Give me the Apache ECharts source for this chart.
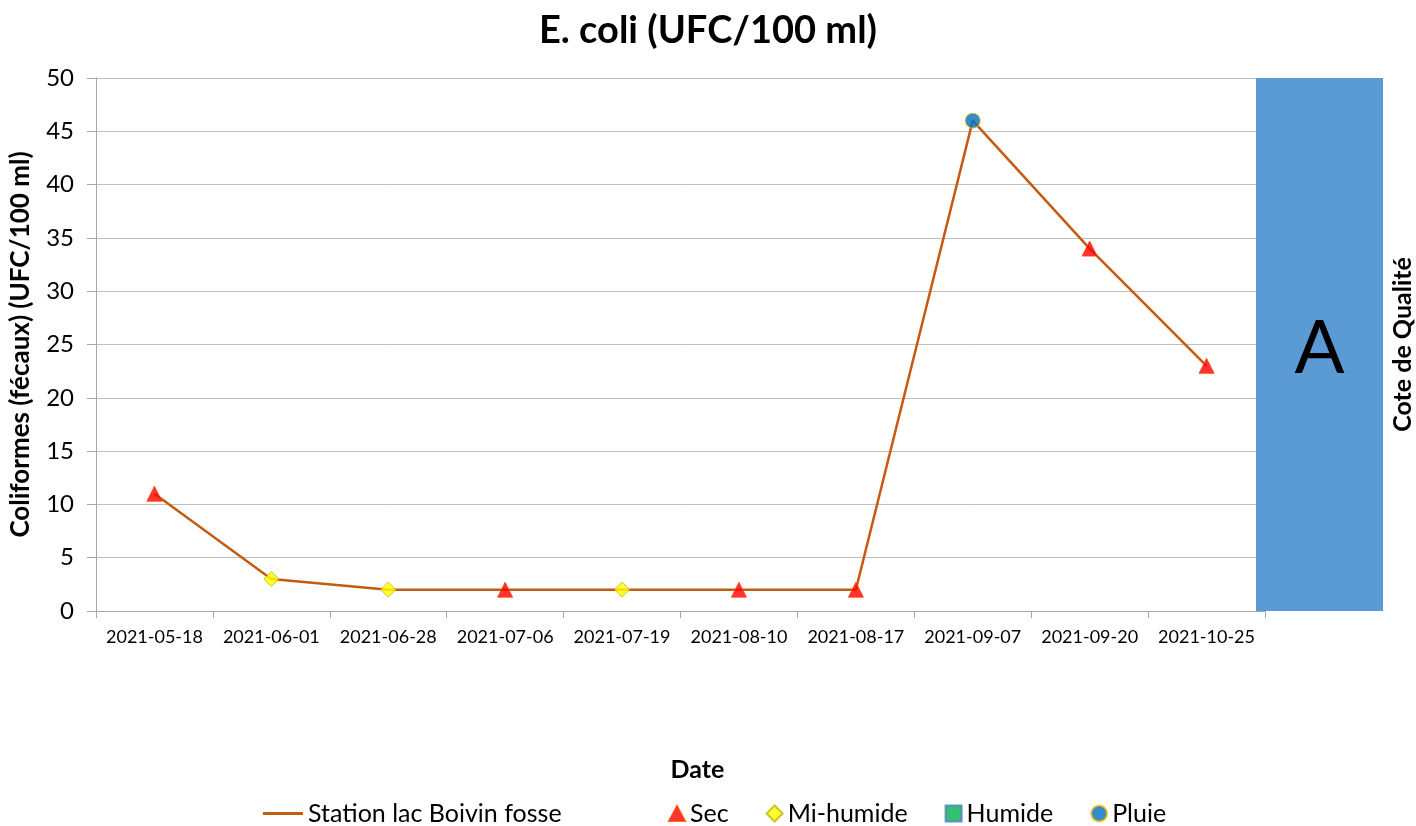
<!DOCTYPE html>
<html>
<head>
<meta charset="utf-8">
<script src="https://cdn.jsdelivr.net/npm/echarts@6/dist/echarts.min.js"></script>
<style>
  html, body { margin: 0; padding: 0; background: #fff; }
  #chart { width: 1416px; height: 826px; }
</style>
</head>
<body>
<div id="chart"></div>
<script>
// data
const dates = ["2021-05-18", "2021-06-01", "2021-06-28", "2021-07-06", "2021-07-19",
  "2021-08-10", "2021-08-17", "2021-09-07", "2021-09-20", "2021-10-25"];
const values = [11, 3, 2, 2, 2, 2, 2, 46, 34, 23];
const conditions = ["Sec", "Mi-humide", "Mi-humide", "Sec", "Mi-humide",
  "Sec", "Sec", "Pluie", "Sec", "Sec"];
const yTicks = [0, 5, 10, 15, 20, 25, 30, 35, 40, 45, 50];
const qualityGrade = "A";
const qualityTop = [50];

const FONT = "Lato";
const chart = echarts.init(document.getElementById("chart"));

// one scatter series per weather condition
const markerStyles = {
  "Sec": { symbol: "triangle", color: "#ff0000", border: "#ff4000", size: 15,
    icon: "path://M8,0L16,15L0,15Z" },
  "Mi-humide": { symbol: "diamond", color: "#ffff00", border: "#c8b400", size: 15,
    icon: "path://M8,0L16,8L8,16L0,8Z" },
  "Humide": { symbol: "rect", color: "#00b050", border: "#4f81bd", size: 13,
    icon: "path://M0,0H16V16H0Z" },
  "Pluie": { symbol: "circle", color: "#0070c0", border: "#ffc000", size: 15,
    icon: "path://M8,0A8,8,0,1,1,8,16A8,8,0,1,1,8,0Z" },
};
const condNames = Object.keys(markerStyles);
const condSeries = condNames.map(name => {
  const m = markerStyles[name];
  return {
    name: name,
    type: "scatter",
    xAxisIndex: 0, yAxisIndex: 0,
    symbol: m.symbol,
    symbolSize: m.size,
    itemStyle: { color: m.color, borderColor: m.border, borderWidth: 1 },
    data: values.map((v, i) => (conditions[i] === name ? v : "-")),
    z: 5,
  };
});

const axisGray = "#a6a6a6";
const legendText = { fontFamily: FONT, fontSize: 25, color: "#000" };
const option = {
  animation: false,
  textStyle: { fontFamily: FONT },
  title: {
    text: "E. coli (UFC/100 ml)",
    left: "center",
    top: 7,
    textStyle: { fontFamily: FONT, fontSize: 38, fontWeight: "bold", color: "#000" },
  },
  legend: [
    {
      left: 258, top: 796,
      itemWidth: 40, itemHeight: 16, itemGap: 40, itemTextGap: 6,
      textStyle: legendText,
      data: [{ name: "Station lac Boivin fosse", icon: "path://M0,0H40V3H0Z" }],
    },
    {
      left: 663, top: 796,
      itemWidth: 16, itemHeight: 16, itemGap: 37, itemTextGap: 9,
      textStyle: legendText,
      data: condNames.map(n => ({ name: n, icon: markerStyles[n].icon })),
    },
  ],
  grid: [
    { left: 95, right: 151, top: 78, bottom: 215 },
    { left: 1256, right: 28, top: 78, bottom: 215 },
  ],
  xAxis: [
    {
      type: "category",
      gridIndex: 0,
      data: dates,
      boundaryGap: true,
      axisLine: { lineStyle: { color: axisGray } },
      axisTick: { show: true, length: 7, lineStyle: { color: axisGray } },
      axisLabel: { color: "#000", fontSize: 18, margin: 17, interval: 0, fontFamily: FONT },
      name: "Date",
      nameLocation: "middle",
      nameGap: 146,
      nameTextStyle: { fontFamily: FONT, fontSize: 25, fontWeight: "bold", color: "#000", padding: [0, 0, 0, 34] },
    },
    { type: "category", gridIndex: 1, data: [qualityGrade], show: false },
  ],
  yAxis: [
    {
      type: "value",
      gridIndex: 0,
      min: 0, max: 50, interval: 5,
      axisLine: { show: true, lineStyle: { color: axisGray } },
      axisTick: { show: true, length: 9, lineStyle: { color: axisGray } },
      splitLine: { lineStyle: { color: "#bfbfbf", width: 1 } },
      axisLabel: { color: "#000", fontSize: 24, margin: 22, fontFamily: FONT,
        formatter: v => (yTicks.includes(v) ? String(v) : "") },
      name: "Coliformes (fécaux) (UFC/100 ml)",
      nameLocation: "middle",
      nameGap: 62,
      nameTextStyle: { fontFamily: FONT, fontSize: 26, fontWeight: "bold", color: "#000" },
    },
    {
      type: "value",
      gridIndex: 1,
      position: "right",
      min: 0, max: 50,
      axisLine: { show: false }, axisTick: { show: false },
      axisLabel: { show: false }, splitLine: { show: false },
      name: "Cote de Qualité",
      nameLocation: "middle",
      nameRotate: 90,
      nameGap: 7,
      nameTextStyle: { fontFamily: FONT, fontSize: 25, fontWeight: "bold", color: "#000" },
    },
  ],
  series: [
    {
      name: "Station lac Boivin fosse",
      type: "line",
      xAxisIndex: 0, yAxisIndex: 0,
      data: values,
      symbol: "none",
      lineStyle: { color: "#c55a11", width: 2.5 },
      itemStyle: { color: "#c55a11" },
      z: 3,
    },
    ...condSeries,
    {
      name: "Cote",
      type: "bar",
      xAxisIndex: 1, yAxisIndex: 1,
      data: qualityTop,
      barCategoryGap: "0%",
      silent: true,
      itemStyle: { color: "#5b9bd5" },
      label: {
        show: true, position: "inside", formatter: qualityGrade,
        fontFamily: FONT, fontSize: 74, color: "#000", offset: [0, 5],
      },
      z: 4,
    },
  ],
};
chart.setOption(option);
</script>
</body>
</html>
